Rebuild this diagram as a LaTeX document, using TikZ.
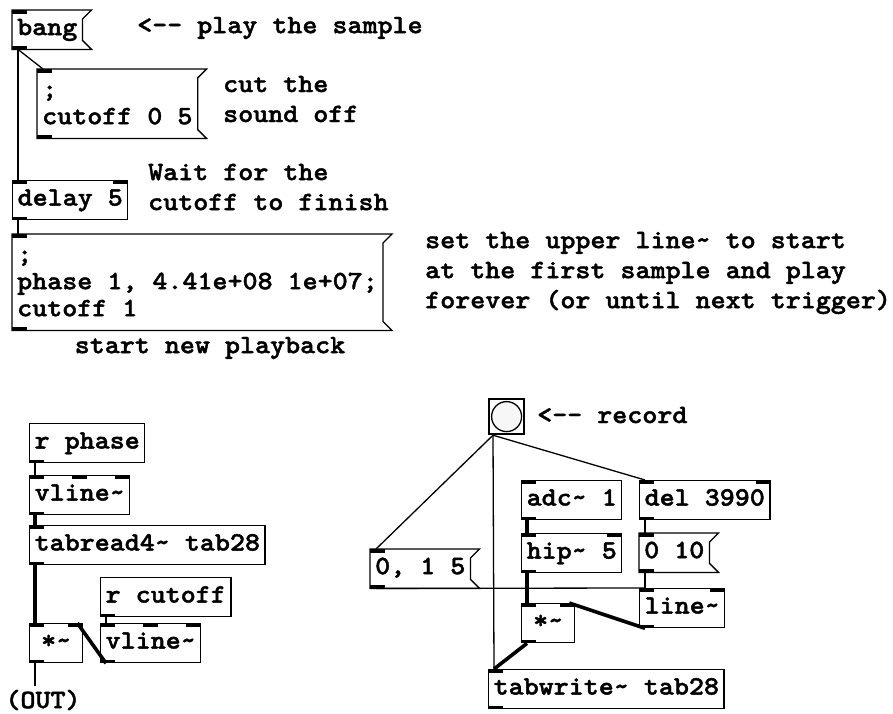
\documentclass[tikz,border=0pt]{standalone}
\usepackage{fontspec}
\newfontfamily\pdface{lmmonolt10-bold.otf}[FakeStretch=1.08,FakeBold=1.6,Ligatures=TeXOff]
\newcommand{\pdfont}{\pdface\fontsize{26.5pt}{27pt}\selectfont\frenchspacing}
\newcommand{\pdnote}{\pdface\fontsize{26.5pt}{30pt}\selectfont\frenchspacing}
\newcommand{\pdtilde}{\textasciitilde}
\newcommand{\pdtop}{\rule{0pt}{22pt}}
\begin{document}
\begin{tikzpicture}[x=1pt,y=-1pt,
  pdbox/.style={anchor=north west,inner xsep=5pt,inner ysep=6pt,align=left,font=\pdfont,
    execute at begin node=\strut,execute at end node=\strut},
  obj/.style={pdbox,draw,line width=1.3pt},
  msg/.style={pdbox,append after command={\pgfextra{\draw[line width=1.3pt]
    (\tikzlastnode.north west) -- ([xshift=9pt]\tikzlastnode.north east)
    -- ([yshift=-9pt]\tikzlastnode.north east) -- ([yshift=9pt]\tikzlastnode.south east)
    -- ([xshift=9pt]\tikzlastnode.south east) -- (\tikzlastnode.south west) -- cycle;}}},
  inl/.style={append after command={\pgfextra{\fill (\tikzlastnode.north west) rectangle ++(15,3.5);}}},
  inm/.style={append after command={\pgfextra{\fill ([xshift=-7.5pt]\tikzlastnode.north) rectangle ++(15,3.5);}}},
  inr/.style={append after command={\pgfextra{\fill (\tikzlastnode.north east) rectangle ++(-15,3.5);}}},
  outl/.style={append after command={\pgfextra{\fill (\tikzlastnode.south west) rectangle ++(15,-3.5);}}},
  note/.style={anchor=west,inner sep=0,align=left,font=\pdnote},
  wire/.style={line width=1.3pt},
  sig/.style={line width=3.6pt}]
\useasboundingbox (0,0) rectangle (893,713);

\node[msg,inl,outl] (bang) at (12,10) {bang};
\node[msg,inl,outl,minimum height=68pt] (cutmsg) at (37,69) {\pdtop;\\cutoff 0 5};
\node[obj,inl,inr,outl] (delay) at (12,180) {delay 5};
\node[msg,inl,outl,minimum height=94pt] (playmsg) at (12,234) {\pdtop;\\phase 1, 4.41e+08 1e+07;\\cutoff 1};

\node[note] (playnote) at (137,28) {<-- play the sample};
\node[note] (cutnote) at (223,99) {cut the\\sound off};
\node[note] (waitnote) at (148,187) {Wait for the\\cutoff to finish};
\node[note] (setnote) at (425,273) {set the upper line\pdtilde{} to start\\at the first sample and play\\forever (or until next trigger)};
\node[note,anchor=center] (startnote) at (210,348) {start new playback};

\draw[wire] ([xshift=6pt]bang.south west) -- ([xshift=6pt]cutmsg.north west);
\draw[wire] ([xshift=6pt]bang.south west) -- ([xshift=6pt]delay.north west);
\draw[wire] ([xshift=6pt]delay.south west) -- ([xshift=6pt]playmsg.north west);

\node[obj,outl] (rphase) at (29,423) {r phase};
\node[obj,inl,inm,inr,outl] (vlineA) at (29,475) {vline\pdtilde};
\node[obj,inl,outl] (tabread) at (29,525) {tabread4\pdtilde{} tab28};
\node[obj,outl] (rcutoff) at (100,577) {r cutoff};
\node[obj,inl,inr,outl,minimum width=53pt] (mulA) at (29,623) {*\pdtilde};
\node[obj,inl,inm,inr,outl] (vlineB) at (100,623) {vline\pdtilde};
\coordinate (outend) at (35,686);
\node[note,anchor=center] (outnote) at (43,700) {(OUT)};

\draw[wire] ([xshift=6pt]rphase.south west) -- ([xshift=6pt]vlineA.north west);
\draw[sig] ([xshift=6pt]vlineA.south west) -- ([xshift=6pt]tabread.north west);
\draw[sig] ([xshift=6pt]tabread.south west) -- ([xshift=6pt]mulA.north west);
\draw[wire] ([xshift=6pt]rcutoff.south west) -- ([xshift=6pt]vlineB.north west);
\draw[sig] ([xshift=6pt]vlineB.south west) -- ([xshift=-6pt]mulA.north east);
\draw[wire] ([xshift=6pt]mulA.south west) -- (outend);

\node[draw,line width=2.2pt,minimum size=35pt,inner sep=0,anchor=north west] (rec) at (488,398) {};
\draw[line width=1.3pt,fill=gray!6] (rec.center) circle (15pt);
\node[note] (recnote) at (537,415) {<-- record};
\node[obj,inl,outl] (adc) at (521,480) {adc\pdtilde{} 1};
\node[obj,inl,inr,outl] (del) at (639,480) {del 3990};
\node[obj,inl,inr,outl] (hip) at (521,533) {hip\pdtilde{} 5};
\node[msg,inl,outl] (msgA) at (639,533) {0 10};
\node[msg,inl,outl] (msgB) at (370,549) {0, 1 5};
\node[obj,inl,inr,outl] (linesig) at (639,588) {line\pdtilde};
\node[obj,inl,inr,outl,minimum width=53pt] (mulB) at (521,603) {*\pdtilde};
\node[obj,inl,outl] (tabwrite) at (488,669) {tabwrite\pdtilde{} tab28};

\draw[wire] ([xshift=5pt]rec.south west) -- ([xshift=6pt]msgB.north west);
\draw[wire] ([xshift=5pt]rec.south west) -- ([xshift=6pt]tabwrite.north west);
\draw[wire] ([xshift=5pt]rec.south west) -- ([xshift=6pt]del.north west);
\draw[sig] ([xshift=6pt]adc.south west) -- ([xshift=6pt]hip.north west);
\draw[sig] ([xshift=6pt]hip.south west) -- ([xshift=6pt]mulB.north west);
\draw[wire] ([xshift=6pt]del.south west) -- ([xshift=6pt]msgA.north west);
\draw[wire] ([xshift=6pt]msgA.south west) -- ([xshift=6pt]linesig.north west);
\draw[wire] ([xshift=6pt]msgB.south west) -- ([xshift=6pt]linesig.north west);
\draw[sig] ([xshift=6pt]linesig.south west) -- ([xshift=-6pt]mulB.north east);
\draw[sig] ([xshift=6pt]mulB.south west) -- ([xshift=6pt]tabwrite.north west);
\end{tikzpicture}
\end{document}
